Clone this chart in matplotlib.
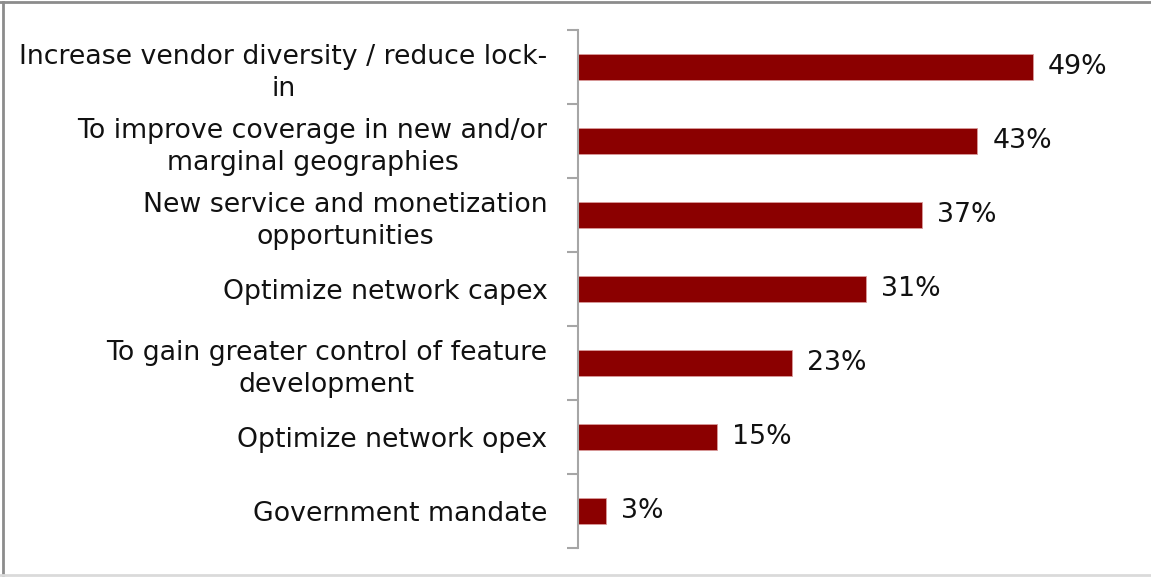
import numpy as np
import matplotlib.pyplot as plt
from matplotlib.lines import Line2D

# Reasons for adoption, share of respondents
reasons = [
    "Increase vendor diversity / reduce lock-\nin",
    "To improve coverage in new and/or\nmarginal geographies",
    "New service and monetization\nopportunities",
    "Optimize network capex",
    "To gain greater control of feature\ndevelopment",
    "Optimize network opex",
    "Government mandate",
]
shares = [49, 43, 37, 31, 23, 15, 3]

bar_color = "#8B0000"
axis_gray = "#A6A6A6"

fig = plt.figure(figsize=(11.51, 5.77), dpi=100)
ax = fig.add_axes([578 / 1151, 29 / 577, (1140 - 578) / 1151, (548 - 30) / 577])

y = np.arange(len(reasons))
bars = ax.barh(y, shares, height=0.35, color=bar_color,
               edgecolor="#D99A9A", linewidth=0.6)
ax.set_ylim(len(reasons) - 0.5, -0.5)
ax.set_xlim(0, 60.5)

for yi, v in zip(y, shares):
    ax.text(v + 1.6, yi, f"{v}%", va="center", ha="left", fontsize=19.3,
            color="#111111")

ax.set_yticks(y)
ax.set_yticklabels(reasons, fontsize=19.3, color="#111111",
                   multialignment="center", linespacing=1.32)
ax.tick_params(axis="y", which="major", length=0, pad=22)
ax.set_yticks(np.arange(-0.5, len(reasons)), minor=True)
ax.tick_params(axis="y", which="minor", length=8, width=1.5, color=axis_gray)
ax.set_xticks([])

for side in ["top", "right", "bottom"]:
    ax.spines[side].set_visible(False)
ax.spines["left"].set_color(axis_gray)
ax.spines["left"].set_linewidth(1.5)

# outer frame
fig.add_artist(Line2D([0.0, 1.0], [1 - 2 / 577, 1 - 2 / 577],
                      transform=fig.transFigure, color="#8C8C8C", lw=2))
fig.add_artist(Line2D([3 / 1151, 3 / 1151], [2 / 577, 1 - 2 / 577],
                      transform=fig.transFigure, color="#8C8C8C", lw=2))
fig.add_artist(Line2D([0.0, 1.0], [2 / 577, 2 / 577],
                      transform=fig.transFigure, color="#DADADA", lw=2))

fig.savefig("out.png", dpi=100)
